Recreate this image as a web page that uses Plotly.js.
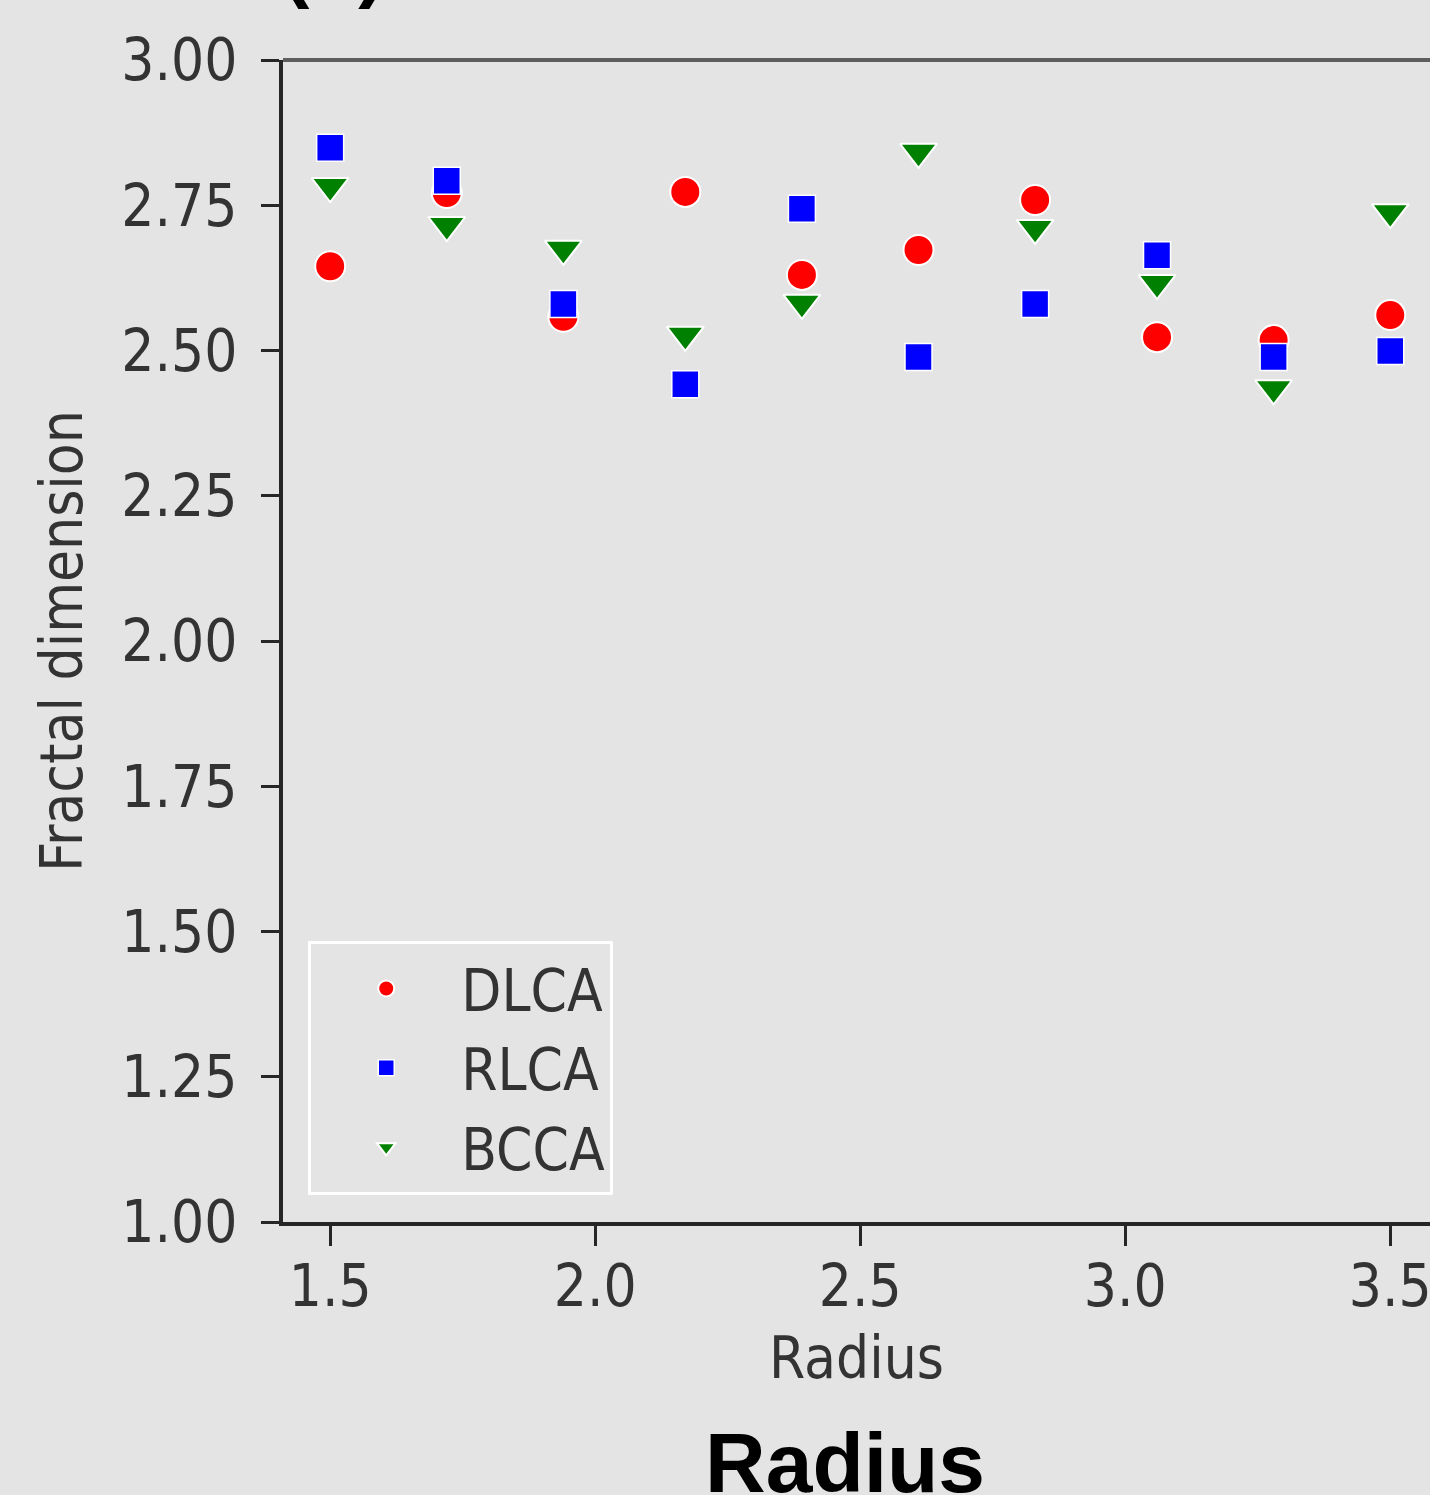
<!DOCTYPE html>
<html>
<head>
<meta charset="utf-8">
<script src="https://cdn.plot.ly/plotly-3.0.1.min.js"></script>
<style>html,body{margin:0;padding:0;background:#e4e4e4;overflow:hidden;}</style>
</head>
<body>
<div id="chart" style="width:1430px;height:1495px;"></div>
<script>
// Data
const radius = [1.5, 1.72, 1.94, 2.17, 2.39, 2.61, 2.83, 3.06, 3.28, 3.5];
const dlca   = [2.645, 2.771, 2.558, 2.773, 2.630, 2.673, 2.759, 2.523, 2.518, 2.561];
const rlca   = [2.849, 2.792, 2.580, 2.442, 2.744, 2.489, 2.580, 2.664, 2.489, 2.499];
const bcca   = [2.783, 2.716, 2.675, 2.527, 2.582, 2.842, 2.711, 2.616, 2.435, 2.738];
const seriesNames = ["DLCA", "RLCA", "BCCA"];
const yTickVals = [1.00, 1.25, 1.50, 1.75, 2.00, 2.25, 2.50, 2.75, 3.00];
const yTickText = ["1.00", "1.25", "1.50", "1.75", "2.00", "2.25", "2.50", "2.75", "3.00"];
const xTickVals = [1.5, 2.0, 2.5, 3.0, 3.5];
const xTickText = ["1.5", "2.0", "2.5", "3.0", "3.5"];

const tickFont = {family: "DejaVu Sans Condensed, DejaVu Sans, sans-serif", size: 58, color: "#333333"};

const traces = [
  {x: radius, y: dlca, name: seriesNames[0], legendgroup: "a", type: "scatter", mode: "markers",
   marker: {symbol: "circle", size: 30, color: "#ff0000", line: {color: "#ffffff", width: 2}}},
  {x: radius, y: rlca, name: seriesNames[1], legendgroup: "b", type: "scatter", mode: "markers",
   marker: {symbol: "square", size: 27, color: "#0000ff", line: {color: "#ffffff", width: 1.5}}},
  {x: radius, y: bcca, name: seriesNames[2], legendgroup: "c", type: "scatter", mode: "markers",
   marker: {symbol: "triangle-down", size: 32, color: "#008000", line: {color: "#ffffff", width: 2}}}
];

const layout = {
  width: 1430, height: 1495,
  margin: {l: 283, r: 0, t: 60, b: 273, pad: 0},
  paper_bgcolor: "#e4e4e4",
  plot_bgcolor: "#e4e4e4",
  showlegend: true,
  legend: {
    x: 0.022, y: 0.023, xanchor: "left", yanchor: "bottom",
    bgcolor: "#e4e4e4", bordercolor: "#ffffff", borderwidth: 3,
    font: tickFont, itemwidth: 140, itemsizing: "trace",
    tracegroupgap: 1
  },
  xaxis: {
    range: [1.411, 3.575], tickvals: xTickVals, ticktext: xTickText,
    showgrid: false, zeroline: false,
    showline: true, linecolor: "#262626", linewidth: 4,
    ticks: "outside", ticklen: 20, tickwidth: 3, tickcolor: "#262626",
    tickfont: tickFont, ticklabelstandoff: -10, ticklabeloverflow: "allow",
    title: {text: "Radius", font: tickFont, standoff: 20}
  },
  yaxis: {
    range: [1.0, 3.0], tickvals: yTickVals, ticktext: yTickText,
    showgrid: false, zeroline: false,
    showline: true, linecolor: "#262626", linewidth: 4,
    ticks: "outside", ticklen: 18, tickwidth: 3, tickcolor: "#262626",
    tickfont: tickFont, ticklabelstandoff: 12,
    title: {text: "Fractal dimension", font: tickFont, standoff: 21}
  },
  shapes: [
    {type: "line", xref: "paper", yref: "paper", x0: 0, x1: 1, y0: 1, y1: 1,
     line: {color: "#5e5e5e", width: 4}}
  ],
  annotations: [
    {text: "<b>Radius</b>", xref: "paper", yref: "paper", x: 0.49, y: -0.207,
     xanchor: "center", yanchor: "middle", showarrow: false,
     font: {family: "Liberation Sans, Arial, sans-serif", size: 84, color: "#000000"}},
    {text: "<b>Plots (b) Fractal dimension vs. radius, all cluster models</b>", xref: "paper", yref: "paper",
     x: 0.0, xshift: -220, y: 1, yshift: 49, xanchor: "left", yanchor: "bottom", showarrow: false,
     font: {family: "Liberation Sans, Arial, sans-serif", size: 80, color: "#000000"}}
  ]
};

Plotly.newPlot("chart", traces, layout, {displayModeBar: false, staticPlot: true});
</script>
</body>
</html>
